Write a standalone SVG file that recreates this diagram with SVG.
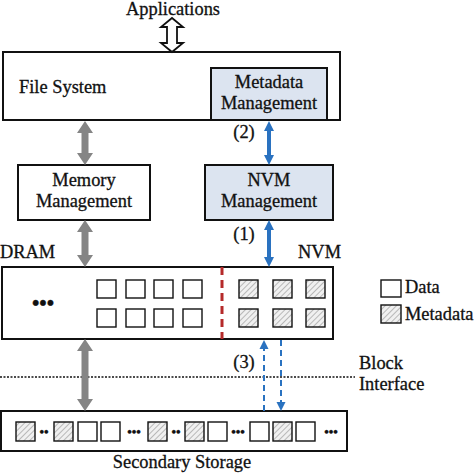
<svg xmlns="http://www.w3.org/2000/svg" width="474" height="474" viewBox="0 0 474 474">
<style>
text{font-family:"Liberation Serif","Times New Roman",serif;font-size:18.4px;fill:#111;stroke:#111;stroke-width:0.3}
.box{fill:#fff;stroke:#111;stroke-width:2}
.blue{fill:#dce4f0}
.sq{fill:#fff;stroke:#111;stroke-width:1.4}
.hq{fill:url(#hatch);stroke:#111;stroke-width:1.4}
.dots{font-weight:bold;font-size:13px}
.bigdots{font-weight:bold;font-size:21px}
.ga{fill:#858585}
.ba{fill:#2a72c0}
.bd{stroke:#2a72c0;stroke-width:2;stroke-dasharray:6,4;fill:none}
</style>
<defs>
<pattern id="hatch" width="4" height="4" patternUnits="userSpaceOnUse" patternTransform="rotate(45)">
<rect width="4" height="4" fill="#f0f0f0"/>
<line x1="0" y1="0" x2="0" y2="4" stroke="#aaa" stroke-width="1.6"/>
</pattern>
</defs>

<g id="applications"><text x="173" y="15" text-anchor="middle">Applications</text></g>

<g id="file-system">
<rect class="box" x="3" y="52" width="337" height="68" stroke-width="3"/>
<text x="19" y="93">File System</text>
</g>
<g id="metadata-management">
<rect class="box blue" x="211" y="68" width="116" height="52" stroke-width="1.5"/>
<text x="269" y="88" text-anchor="middle">Metadata</text>
<text x="269" y="109" text-anchor="middle">Management</text>
</g>
<g id="memory-management">
<rect class="box" x="18" y="165" width="132" height="55"/>
<text x="84" y="186" text-anchor="middle">Memory</text>
<text x="84" y="207" text-anchor="middle">Management</text>
</g>
<g id="nvm-management">
<rect class="box blue" x="205" y="165" width="128" height="55"/>
<text x="269" y="186" text-anchor="middle">NVM</text>
<text x="269" y="207" text-anchor="middle">Management</text>
</g>

<g id="memory">
<text x="0" y="258">DRAM</text>
<text x="341" y="258" text-anchor="end">NVM</text>
<rect class="box" x="2" y="267" width="331" height="72"/>
<text x="43" y="310" text-anchor="middle" class="bigdots">•••</text>
<rect class="sq" x="97" y="280" width="19" height="18"/>
<rect class="sq" x="126" y="280" width="19" height="18"/>
<rect class="sq" x="154" y="280" width="19" height="18"/>
<rect class="sq" x="183" y="280" width="19" height="18"/>
<rect class="sq" x="97" y="309" width="19" height="18"/>
<rect class="sq" x="126" y="309" width="19" height="18"/>
<rect class="sq" x="154" y="309" width="19" height="18"/>
<rect class="sq" x="183" y="309" width="19" height="18"/>
<line x1="222" y1="267" x2="222" y2="339" stroke="#b52a2a" stroke-width="3" stroke-dasharray="8,5"/>
<rect class="hq" x="239" y="280" width="19" height="18"/>
<rect class="hq" x="273" y="280" width="19" height="18"/>
<rect class="hq" x="306" y="280" width="19" height="18"/>
<rect class="hq" x="239" y="309" width="19" height="18"/>
<rect class="hq" x="273" y="309" width="19" height="18"/>
<rect class="hq" x="306" y="309" width="19" height="18"/>
</g>

<g id="legend">
<rect class="sq" x="381" y="280" width="20" height="17"/>
<text x="405" y="293">Data</text>
<rect class="hq" x="381" y="305" width="20" height="18"/>
<text x="405" y="320">Metadata</text>
</g>

<g id="block-interface">
<line x1="0" y1="377" x2="355" y2="377" stroke="#111" stroke-width="1.6" stroke-dasharray="2,1.5"/>
<text x="359" y="369">Block</text>
<text x="359" y="390">Interface</text>
</g>

<g id="secondary-storage">
<rect class="box" x="1" y="411" width="346" height="40"/>
<rect class="hq" x="16" y="422" width="19" height="19"/>
<text x="44" y="436" text-anchor="middle" class="dots">••</text>
<rect class="hq" x="54" y="422" width="19" height="19"/>
<rect class="sq" x="78" y="422" width="19" height="19"/>
<rect class="sq" x="101" y="422" width="19" height="19"/>
<text x="134" y="436" text-anchor="middle" class="dots">•••</text>
<rect class="hq" x="148" y="422" width="19" height="19"/>
<text x="176" y="436" text-anchor="middle" class="dots">••</text>
<rect class="hq" x="185" y="422" width="19" height="19"/>
<rect class="sq" x="208" y="422" width="19" height="19"/>
<text x="238" y="436" text-anchor="middle" class="dots">•••</text>
<rect class="sq" x="250" y="422" width="19" height="19"/>
<rect class="hq" x="273" y="422" width="19" height="19"/>
<rect class="sq" x="296" y="422" width="19" height="19"/>
<text x="331" y="436" text-anchor="middle" class="dots">•••</text>
<text x="182" y="468" text-anchor="middle">Secondary Storage</text>
</g>

<g id="connectors">
<path d="M167,27 L167,43 L161,43 L172,52 L183,43 L177,43 L177,27 L183,27 L172,18 L161,27 Z" fill="#fff" stroke="#111" stroke-width="1.8" stroke-linejoin="miter"/>
<polygon class="ga" points="85,121 93,133 88.5,133 88.5,153 93,153 85,165 77,153 81.5,153 81.5,133 77,133"/>
<polygon class="ga" points="85,220 93,232 88.5,232 88.5,255 93,255 85,267 77,255 81.5,255 81.5,232 77,232"/>
<polygon class="ga" points="85,339 93,351 88.5,351 88.5,399 93,399 85,411 77,399 81.5,399 81.5,351 77,351"/>
<polygon class="ba" points="269,121 274,131 271,131 271,155 274,155 269,165 264,155 267,155 267,131 264,131"/>
<polygon class="ba" points="269,220 274,230 271,230 271,257 274,257 269,267 264,257 267,257 267,230 264,230"/>
<line class="bd" x1="264" y1="411" x2="264" y2="348"/>
<polygon class="ba" points="264,340 268.5,349 259.5,349"/>
<line class="bd" x1="281" y1="340" x2="281" y2="402"/>
<polygon class="ba" points="281,411 285.5,402 276.5,402"/>
<text x="244" y="138" text-anchor="middle">(2)</text>
<text x="244" y="240" text-anchor="middle">(1)</text>
<text x="244" y="368" text-anchor="middle">(3)</text>
</g>
</svg>
